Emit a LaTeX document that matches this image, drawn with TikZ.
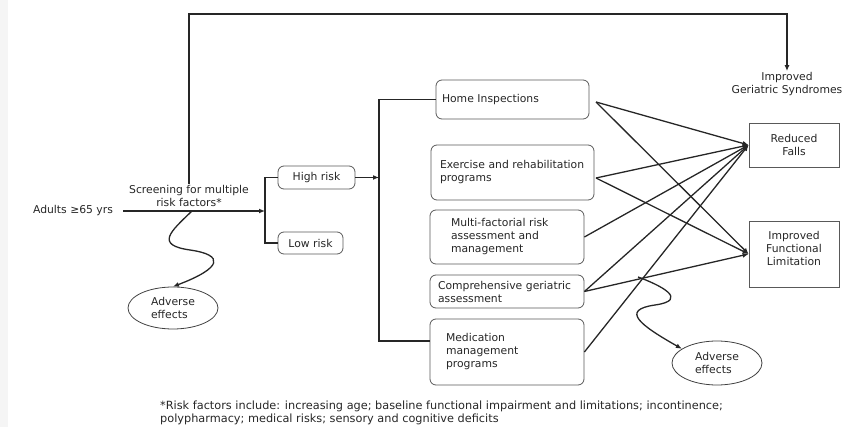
\documentclass[tikz,border=0pt]{standalone}
\usepackage{fontspec}
\setmainfont{DejaVu Sans}
\usetikzlibrary{arrows.meta,shapes.geometric}
\tikzset{
  >={Latex[length=6pt,width=5pt]},
  txt/.style={font=\fontsize{10.8}{13}\selectfont, text=black!85, inner sep=1pt},
  box/.style={txt, draw=black!65, line width=0.8pt, rounded corners=6pt, align=left, inner ysep=0pt},
  outbox/.style={txt, draw=black!65, line width=0.8pt, align=center, inner sep=0pt},
  adv/.style={txt, draw=black!75, line width=0.8pt, ellipse, align=left, minimum width=90pt, inner sep=0pt},
  link/.style={line width=1.3pt, black!85},
}
\begin{document}
\begin{tikzpicture}[x=1pt,y=-1pt]
   \useasboundingbox (0,0) rectangle (854,427);
   \fill[black!4] (0,0) rectangle (8,427);

   % left part
   \node[txt] (adults) at (73,211) {Adults ≥65 yrs};
   \node[txt, align=center] (screen) at (189,196) {Screening for multiple\\risk factors*};
   \node[box, minimum width=77pt, minimum height=23pt, align=center] (high) at (316.5,177.5) {High risk};
   \node[box, minimum width=65pt, minimum height=22pt, align=center] (low) at (310.5,243) {Low risk};
   \node[adv, minimum height=42pt] (adv1) at (173,308) {Adverse\\effects};
   \coordinate (split) at (265,211);
   \coordinate (s1) at (192,211);

   \draw[link,->] (adults.east) ++(9,0) -- (split);
   \draw[link] (high.west) -| (split) |- (low.west);
   \draw[link,->] (s1) .. controls (170,232) and (155,245) .. (190,250)
                      .. controls (225,255) and (222,268) .. (adv1.north);

   % interventions
   \node[box, text width=141pt, inner xsep=6pt, minimum height=39pt] (home) at (512.5,99.5) {Home Inspections};
   \node[box, text width=145pt, inner xsep=9pt, minimum height=55pt] (exer) at (512.5,172.5) {Exercise and rehabilitation\\programs};
   \node[box, text width=112pt, inner xsep=21pt, minimum height=54pt] (multi) at (507,237) {Multi-factorial risk\\assessment and\\management};
   \node[box, text width=138pt, inner xsep=8pt, minimum height=33pt] (comp) at (507,291.5) {Comprehensive geriatric\\assessment};
   \node[box, text width=122pt, inner xsep=16pt, minimum height=66pt] (med) at (507,352) {Medication\\management\\programs};
   \coordinate (bigsplit) at (379,341);

   \draw[link,->] (high.east) -- (high.east -| bigsplit);
   \draw[link] (home.west) -| (bigsplit) -- (bigsplit -| med.west);

   % outcomes
   \node[txt, align=center] (geri) at (787,84) {Improved\\Geriatric Syndromes};
   \node[outbox, minimum width=90pt, minimum height=44pt] (falls) at (794,145) {Reduced\\Falls};
   \node[outbox, minimum width=90pt, minimum height=66pt, text depth=12pt] (func) at (794,254) {Improved\\Functional\\Limitation};
   \node[adv, minimum height=44pt] (adv2) at (717,363) {Adverse\\effects};

   \coordinate (top) at (500,14);
   \draw[link,->] (screen.north) |- (top) -| (geri.north);

   \coordinate (homeR) at (596,102);
   \coordinate (exerR) at (596,178);
   \draw[link,->] (homeR) -- (falls.west);
   \draw[link,->] (homeR) -- (func.west);
   \draw[link,->] (exerR) -- (falls.west);
   \draw[link,->] (exerR) -- (func.west);
   \draw[link,->] (multi.east) -- (falls.west);
   \draw[link,->] (comp.east) -- (falls.west);
   \draw[link,->] (comp.east) -- (func.west);
   \draw[link,->] (med.east) -- (falls.west);

   \coordinate (s2) at (638,277);
   \draw[link,->] (s2) .. controls (660,285) and (690,300) .. (655,305)
                      .. controls (620,310) and (640,325) .. (adv2.158);

   % footnote
   \node[txt, font=\fontsize{11.3}{13}\selectfont, anchor=north west, align=left] (note) at (159,400)
     {*Risk factors include: increasing age; baseline functional impairment and limitations; incontinence;\\
      polypharmacy; medical risks; sensory and cognitive deficits};
\end{tikzpicture}
\end{document}
